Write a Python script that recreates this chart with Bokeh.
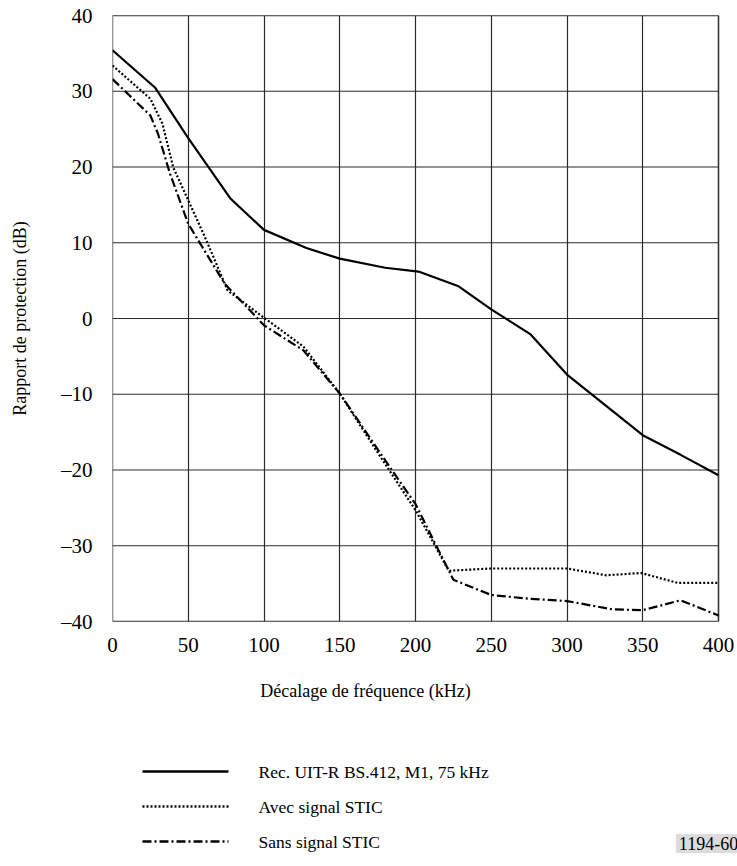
from bokeh.plotting import figure
from bokeh.layouts import column
from bokeh.models import Range1d, FixedTicker, Label
from bokeh.embed import file_html
from bokeh.resources import INLINE

# ---- data ----
x_ticks = [0, 50, 100, 150, 200, 250, 300, 350, 400]
y_ticks = [-40, -30, -20, -10, 0, 10, 20, 30, 40]

rec_x = [0, 28, 50, 78, 100, 128, 150, 180, 202, 228, 250, 276, 300, 325, 350, 375, 400]
rec_y = [35.4, 30.5, 23.8, 15.8, 11.7, 9.3, 7.9, 6.7, 6.2, 4.3, 1.2, -2.1, -7.4, -11.4, -15.4, -18.0, -20.7]

avec_x = [0, 25, 33, 40, 50, 62, 76, 100, 126, 150, 177, 200, 222, 250, 300, 326, 349, 373, 400]
avec_y = [33.4, 29.0, 25.7, 20.0, 15.6, 10.3, 3.7, 0.1, -3.7, -9.9, -18.3, -25.3, -33.3, -33.0, -33.0, -33.9, -33.6, -34.9, -34.9]

sans_x = [0, 25, 30, 38, 50, 74, 100, 126, 150, 183, 200, 225, 250, 275, 300, 330, 350, 375, 400]
sans_y = [31.6, 26.8, 24.4, 19.1, 12.5, 4.6, -0.9, -4.2, -9.9, -19.6, -24.5, -34.5, -36.5, -37.0, -37.3, -38.4, -38.5, -37.2, -39.2]

series_labels = ["Rec. UIT-R BS.412, M1, 75 kHz", "Avec signal STIC", "Sans signal STIC"]
x_title = "Décalage de fréquence (kHz)"
y_title = "Rapport de protection (dB)"
fig_id = "1194-60"

FONT = "Liberation Serif"
DOT = "2 2"
DASHDOT = "9 3 2 3"

W = 737
BL = 112          # left border (px)
PLOT_W = 606      # pixel width of the 0..400 kHz span
H1 = 665
x0, x1 = x_ticks[0], x_ticks[-1]
y0, y1 = y_ticks[0], y_ticks[-1]
x_end = x0 + (x1 - x0) * (W - BL) / PLOT_W   # frame reaches the right edge

# ---- main chart ----
p = figure(width=W, height=H1, output_backend="svg", toolbar_location=None,
           x_range=Range1d(x0, x_end), y_range=Range1d(y0, y1),
           min_border_left=BL, min_border_right=0, min_border_top=15,
           min_border_bottom=H1 - 621)
p.background_fill_color = "white"
p.border_fill_color = "white"
p.outline_line_color = None

p.xaxis.ticker = FixedTicker(ticks=x_ticks)
p.yaxis.ticker = FixedTicker(ticks=y_ticks)
p.yaxis.major_label_overrides = {t: ("\u2013" + str(-t) if t < 0 else str(t)) for t in y_ticks}
for ax in (p.xaxis, p.yaxis):
    ax.axis_line_color = None
    ax.major_tick_line_color = None
    ax.minor_tick_line_color = None
    ax.major_label_text_font = FONT
    ax.major_label_text_font_size = "21px"
    ax.major_label_text_color = "black"
    ax.axis_label_text_font = FONT
    ax.axis_label_text_font_size = "18px"
    ax.axis_label_text_font_style = "normal"
    ax.axis_label_text_color = "black"
p.yaxis.axis_label = y_title
p.xaxis.major_label_standoff = 10
p.yaxis.major_label_standoff = 14
p.yaxis.axis_label_standoff = 28

# grid: vertical lines from the axis grid, horizontal ones limited to 0..400
p.xgrid.ticker = FixedTicker(ticks=x_ticks)
p.xgrid.grid_line_color = "#2a2a2a"
p.xgrid.grid_line_width = 1.2
p.ygrid.visible = False
p.segment(x0=[x0] * len(y_ticks), x1=[x1] * len(y_ticks), y0=y_ticks, y1=y_ticks,
          line_color="#2a2a2a", line_width=1.2)
p.quad(left=[x0], right=[x1], bottom=[y0], top=[y1], fill_color=None,
       line_color="#333333", line_width=1.4)

p.line(rec_x, rec_y, line_color="black", line_width=2.2)
p.line(avec_x, avec_y, line_color="black", line_width=2.2, line_dash=DOT)
p.line(sans_x, sans_y, line_color="black", line_width=2.2, line_dash=DASHDOT)

# ---- x title + legend panel (pixel-like coordinates) ----
H2 = 199
q = figure(width=W, height=H2, output_backend="svg", toolbar_location=None,
           x_range=Range1d(BL, W), y_range=Range1d(H1 + H2, H1),
           min_border_left=BL, min_border_right=0,
           min_border_top=0, min_border_bottom=0)
q.axis.visible = False
q.grid.visible = False
q.outline_line_color = None
q.background_fill_color = "white"
q.border_fill_color = "white"

q.add_layout(Label(x=365, y=690, text=x_title, text_font=FONT, text_font_size="18px",
                   text_baseline="middle", text_align="center", text_color="black"))

rows = [771, 806, 841]
dashes = ["solid", DOT, DASHDOT]
for yy, d, lab in zip(rows, dashes, series_labels):
    q.line([142, 228], [yy, yy], line_color="black", line_width=2.4, line_dash=d)
    q.add_layout(Label(x=258, y=yy, text=lab, text_font=FONT, text_font_size="17.5px",
                       text_baseline="middle", text_color="black"))

q.add_layout(Label(x=708, y=843, text=fig_id, text_font=FONT, text_font_size="18px",
                   text_baseline="middle", text_align="center", text_color="black",
                   background_fill_color="#dcdcdc", padding=3))

layout = column(p, q, spacing=0)
open("out.html", "w").write(file_html(layout, INLINE))
